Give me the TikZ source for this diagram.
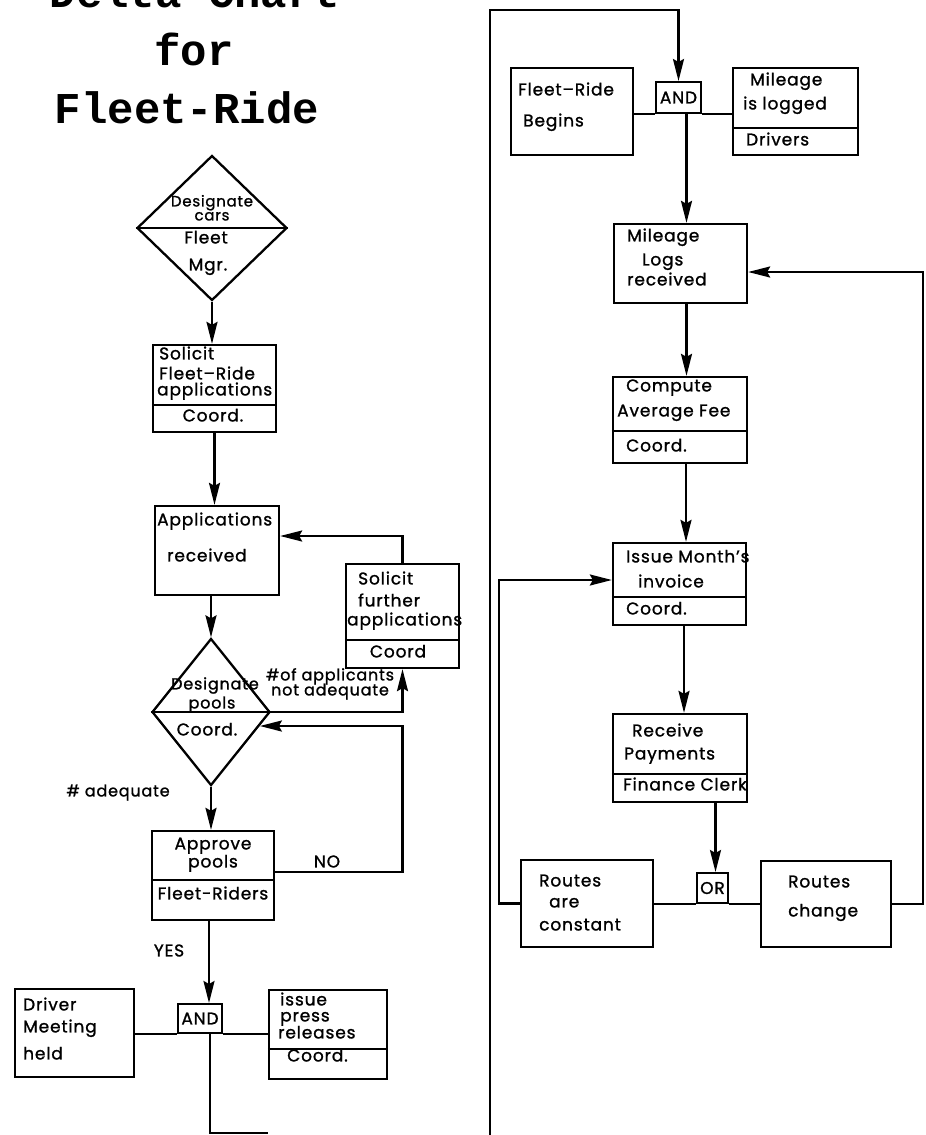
\documentclass[tikz,border=0pt]{standalone}
\usepackage{fontspec}
\setmainfont{Poppins}[LetterSpace=5, FakeBold=1.2]
\newfontfamily\titlefont{Liberation Mono}
\usetikzlibrary{arrows.meta,shapes.geometric}

\tikzset{
  box/.style={draw, line width=2.3pt, inner sep=0pt},
  decide/.style={draw, diamond, line width=2.3pt, inner sep=0pt},
  gate/.style={draw, line width=2pt, inner sep=0pt, font=\fontsize{17}{17}\selectfont},
  lbl/.style={inner sep=0pt, text height=1.5ex, text depth=.25ex, font=\fontsize{17}{17}\selectfont},
  link/.style={line width=2.3pt},
  flow/.style={line width=2.3pt, -{Stealth[length=22pt,width=11pt,inset=3pt]}},
}

\begin{document}
\begin{tikzpicture}[x=1pt, y=-1pt]
  \useasboundingbox (0,0) rectangle (926,1135);
  \clip (0,0) rectangle (926,1135);

  % title
  \begin{scope}[every node/.style={anchor=base, inner sep=0pt, font=\titlefont\bfseries\fontsize{44}{44}\selectfont}]
    \node (title1) at (195,7) {Delta Chart};
    \node (title2) at (194,65) {for};
    \node (title3) at (187,123) {Fleet-Ride};
  \end{scope}

  % left column
  \node[decide, minimum width=150pt, minimum height=145pt] (d1) at (212,228) {};
  \node[box, minimum width=123pt, minimum height=87pt] (solicit) at (214.5,388.5) {};
  \node[box, minimum width=124pt, minimum height=89pt] (apprec) at (217,550.5) {};
  \node[decide, minimum width=118pt, minimum height=147pt] (d2) at (211,712) {};
  \node[box, minimum width=113pt, minimum height=104pt] (further) at (402.5,616) {};
  \node[box, minimum width=122pt, minimum height=89pt] (approve) at (213,875.5) {};
  \node[gate, minimum width=44pt, minimum height=29pt] (and1) at (200,1018.5) {AND};
  \node[box, minimum width=119pt, minimum height=88pt] (driver) at (74.5,1033) {};
  \node[box, minimum width=118pt, minimum height=89pt] (press) at (328,1034.5) {};

  % right column
  \node[box, minimum width=122pt, minimum height=87pt] (begins) at (572,111.5) {};
  \node[gate, minimum width=45pt, minimum height=31pt] (and2) at (678.5,97.5) {AND};
  \node[box, minimum width=125pt, minimum height=87pt] (logged) at (795.5,111.5) {};
  \node[box, minimum width=133pt, minimum height=79pt] (logs) at (680.5,263.5) {};
  \node[box, minimum width=134pt, minimum height=86pt] (compute) at (680,420) {};
  \node[box, minimum width=133pt, minimum height=82pt] (invoice) at (679.5,584) {};
  \node[box, minimum width=134pt, minimum height=88pt] (receive) at (680,758) {};
  \node[gate, minimum width=31pt, minimum height=30pt] (orgate) at (712.5,888) {OR};
  \node[box, minimum width=132pt, minimum height=87pt] (constant) at (587,903.5) {};
  \node[box, minimum width=130pt, minimum height=86pt] (change) at (826,904) {};

  \coordinate (off1) at (268,1135);
  \coordinate (off2) at (490,1135);
  \coordinate (topturn) at (490,10);

  % dividers
  \draw[link] (d1.west) -- (d1.east);
  \draw[link] (d2.west) -- (d2.east);
  \foreach \n/\h in {solicit/28, further/29, approve/41, press/31, logged/28, compute/33, invoice/29, receive/29}
    \draw[link] ([yshift=\h pt]\n.south west) -- ([yshift=\h pt]\n.south east);

  % text lines, left aligned
  \foreach \x/\y/\t [count=\k] in {159/356/Solicit, 159/376/Fleet--Ride, 157/392/applications,
      157/522/Applications, 167/558/received,
      358/581/Solicit, 358/603/further, 347/622/applications,
      23/1007/Driver, 23/1029/Meeting, 23/1056/held,
      280/1002/issue, 280/1018/press, 278/1035/releases, 287/1058/Coord.,
      518/92/Fleet--Ride, 523/123/Begins,
      750/82/Mileage, 743/106/is logged, 746/142/Drivers,
      627/238/Mileage, 642/262/Logs, 627/282/received,
      626/388/Compute, 617/413/Average Fee, 626/448/Coord.,
      626/559/Issue Month's, 638/584/invoice, 626/611/Coord.,
      632/733/Receive, 624/756/Payments, 623/787/Finance Clerk,
      539/883/Routes, 549/904/are, 539/927/constant,
      788/884/Routes, 788/913/change}
    \node[lbl, anchor=west] (w\k) at (\x,\y) {\t};

  % text lines, centred
  \foreach \x/\y/\s/\t [count=\k] in {212/203/15/Designate, 212/217/15/cars, 206/240/17/Fleet, 208/267/17/Mgr.,
      213/418/17/Coord., 398/654/17/Coord,
      215/686/16/Designate, 212/705/16/pools, 207/732/17/Coord.,
      213/846/17/Approve, 213/864/17/pools, 213/896/17/Fleet-Riders,
      327/864/17/NO, 118/793/16/\# adequate, 169/953/17/YES,
      330/677/16/\#of applicants, 330/692/16/not adequate}
    \node[lbl, font=\fontsize{\s}{\s}\selectfont] (c\k) at (\x,\y) {\t};

  % connectors, left column
  \draw[flow] (d1.south) -- (d1.south |- solicit.north);
  \draw[flow] (solicit.south) -- (solicit.south |- apprec.north);
  \draw[flow] (d2.north |- apprec.south) -- (d2.north);
  \draw[flow] (d2.east) -| (further.south);
  \draw[flow] (further.north) |- ([yshift=14.5pt]apprec.east);
  \draw[flow] (d2.south) -- (d2.south |- approve.north);
  \draw[flow] ([yshift=3.5pt]approve.east) -| (further.south |- d2.-16) -- (d2.-16);
  \draw[flow] ([xshift=9pt]and1.north |- approve.south) -- ([xshift=9pt]and1.north);
  \draw[link] (driver.east |- and1.south) -- (and1.south west);
  \draw[link] (and1.south east) -- (press.west |- and1.south);
  \draw[link] ([xshift=10pt]and1.south) |- ([yshift=2pt]off1);

  % connectors, right column
  \draw[flow] (off2) -- (topturn) -| (and2.north);
  \draw[link] (begins.east |- and2.south) -- (and2.south west);
  \draw[link] (and2.south east) -- (logged.west |- and2.south);
  \draw[flow] ([xshift=8pt]and2.south) -- ([xshift=8pt]and2.south |- logs.north);
  \draw[flow] ([xshift=6pt]logs.south) -- ([xshift=6pt]logs.south |- compute.north);
  \draw[flow] ([xshift=6pt]compute.south) -- ([xshift=6pt]compute.south |- invoice.north);
  \draw[flow] ([xshift=4.5pt]invoice.south) -- ([xshift=4.5pt]invoice.south |- receive.north);
  \draw[flow] ([xshift=3pt]orgate.north |- receive.south) -- ([xshift=3pt]orgate.north);
  \draw[link] (constant.east |- orgate.south) -- (orgate.south west);
  \draw[link] (orgate.south east) -- (change.west |- orgate.south);
  \draw[flow] (constant.west) -- ++(-21,0) |- ([yshift=4pt]invoice.west);
  \draw[flow] (change.east) -- ++(31,0) |- ([yshift=-8.5pt]logs.east);
\end{tikzpicture}
\end{document}
